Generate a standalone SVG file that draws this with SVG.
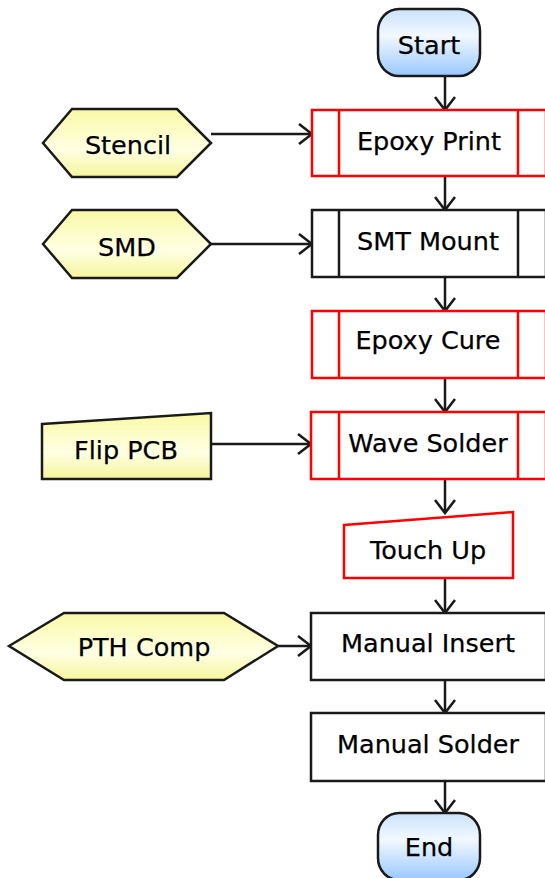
<svg xmlns="http://www.w3.org/2000/svg" width="545" height="878" viewBox="0 0 545 878">
<defs>
<linearGradient id="gBlue" x1="0" y1="0" x2="0" y2="1">
<stop offset="0" stop-color="#cbe2fb"/>
<stop offset="0.4" stop-color="#f2f8ff"/>
<stop offset="1" stop-color="#98c8ff"/>
</linearGradient>
<linearGradient id="gYellow" x1="0" y1="0" x2="0" y2="1">
<stop offset="0" stop-color="#f9f9a6"/>
<stop offset="0.6" stop-color="#ffffe4"/>
<stop offset="1" stop-color="#f5f59c"/>
</linearGradient>
<marker id="arr" markerUnits="userSpaceOnUse" viewBox="0 0 16 22" refX="14" refY="11" markerWidth="16" markerHeight="22" orient="auto">
<path d="M1,1 L14,11 L1,21" fill="none" stroke="#1a1a1a" stroke-width="2.6"/>
</marker>
<style>
.t{font-family:"DejaVu Sans","Verdana",sans-serif;font-size:25.5px;fill:#000;text-anchor:middle;stroke:#000;stroke-width:0.25}
.term{fill:url(#gBlue);stroke:#1a1a1a;stroke-width:2.5}
.data{fill:url(#gYellow);stroke:#1a1a1a;stroke-width:2.5}
.red{fill:#fff;stroke:#ff0000;stroke-width:2.5}
.blk{fill:#fff;stroke:#1a1a1a;stroke-width:2.5}
.redl{stroke:#ff0000;stroke-width:2.5}
.blkl{stroke:#1a1a1a;stroke-width:2.5}
.c{fill:none;stroke:#1a1a1a;stroke-width:2.5;marker-end:url(#arr)}
</style>
</defs>
<g id="connectors">
<line class="c" x1="445" y1="76" x2="445" y2="110"/>
<line class="c" x1="445" y1="176" x2="445" y2="210"/>
<line class="c" x1="445" y1="277" x2="445" y2="311"/>
<line class="c" x1="445" y1="378" x2="445" y2="412"/>
<line class="c" x1="445" y1="479" x2="445" y2="513"/>
<line class="c" x1="445" y1="578" x2="445" y2="613"/>
<line class="c" x1="445" y1="680" x2="445" y2="713"/>
<line class="c" x1="445" y1="781" x2="445" y2="813"/>
<line class="c" x1="211" y1="134" x2="312" y2="134"/>
<line class="c" x1="211" y1="244" x2="312" y2="244"/>
<line class="c" x1="211" y1="444" x2="311" y2="444"/>
<line class="c" x1="278" y1="646" x2="311" y2="646"/>
</g>
<g id="start">
<rect class="term" x="378" y="9" width="102" height="67" rx="21" ry="22"/>
<text class="t" x="429" y="54">Start</text>
</g>
<g id="stencil">
<polygon class="data" points="43,143 72,109 177,109 211,143 177,177 72,177"/>
<text class="t" x="128" y="154">Stencil</text>
</g>
<g id="epoxy-print">
<rect class="red" x="312" y="110" width="234" height="66"/>
<line class="redl" x1="339" y1="110" x2="339" y2="176"/>
<line class="redl" x1="518" y1="110" x2="518" y2="176"/>
<text class="t" x="429" y="150">Epoxy Print</text>
</g>
<g id="smd">
<polygon class="data" points="43,244 72,210 177,210 211,244 177,278 72,278"/>
<text class="t" x="127" y="256">SMD</text>
</g>
<g id="smt-mount">
<rect class="blk" x="312" y="210" width="234" height="67"/>
<line class="blkl" x1="339" y1="210" x2="339" y2="277"/>
<line class="blkl" x1="518" y1="210" x2="518" y2="277"/>
<text class="t" x="428" y="250">SMT Mount</text>
</g>
<g id="epoxy-cure">
<rect class="red" x="312" y="311" width="234" height="67"/>
<line class="redl" x1="339" y1="311" x2="339" y2="378"/>
<line class="redl" x1="518" y1="311" x2="518" y2="378"/>
<text class="t" x="428" y="349">Epoxy Cure</text>
</g>
<g id="flip-pcb">
<polygon class="data" points="42,424 211,413 211,479 42,479"/>
<text class="t" x="126" y="459">Flip PCB</text>
</g>
<g id="wave-solder">
<rect class="red" x="311" y="412" width="235" height="67"/>
<line class="redl" x1="339" y1="412" x2="339" y2="479"/>
<line class="redl" x1="518" y1="412" x2="518" y2="479"/>
<text class="t" x="428" y="452">Wave Solder</text>
</g>
<g id="touch-up">
<polygon class="red" points="344,525 513,512 513,578 344,578"/>
<text class="t" x="428" y="559">Touch Up</text>
</g>
<g id="pth-comp">
<polygon class="data" points="9,646 64,613 224,613 278,646 224,680 64,680"/>
<text class="t" x="144" y="656">PTH Comp</text>
</g>
<g id="manual-insert">
<rect class="blk" x="311" y="613" width="235" height="67"/>
<text class="t" x="428" y="652">Manual Insert</text>
</g>
<g id="manual-solder">
<rect class="blk" x="311" y="713" width="235" height="68"/>
<text class="t" x="428" y="753">Manual Solder</text>
</g>
<g id="end">
<rect class="term" x="378" y="813" width="102" height="67" rx="21" ry="22"/>
<text class="t" x="429" y="856">End</text>
</g>
</svg>
